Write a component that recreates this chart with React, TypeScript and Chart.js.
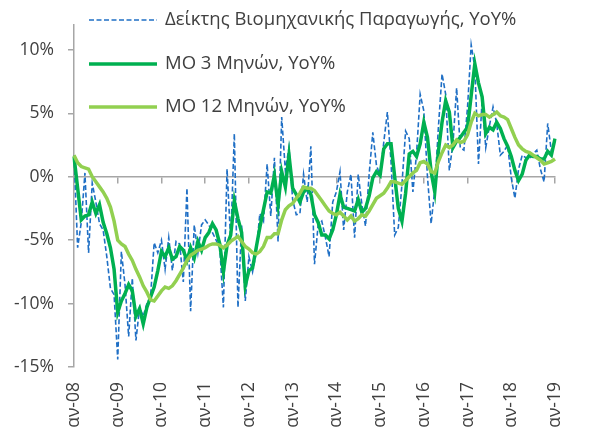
import React, { useEffect, useRef } from "react";
import { Chart, registerables } from "chart.js";

Chart.register(...registerables);

const TICK_YEARS = ["08", "09", "10", "11", "12", "13", "14", "15", "16", "17", "18", "19"];
const MONTH_ABBR = ["αν", "Φεβ", "Μαρ", "Απρ", "Μαϊ", "Ιουν", "Ιουλ", "Αυγ", "Σεπ", "Οκτ", "Νοε", "Δεκ"];
const N_POINTS = 133; // Jan-08 .. Jan-19

const CATEGORIES: string[] = [];
for (let i = 0; i < N_POINTS; i++) {
  CATEGORIES.push(`${MONTH_ABBR[i % 12]}-${TICK_YEARS[Math.floor(i / 12)]}`);
}

const SERIES_NAMES = [
  "Δείκτης Βιομηχανικής Παραγωγής, YoY%",
  "MO 3 Μηνών, YoY%",
  "MO 12 Μηνών, YoY%",
];

const INDEX_YOY = [
  1.7, -5.6, -3.6, 0.3, -6.0, -0.5, -2.0, -3.7, -4.2, -6.3, -8.8, -9.3,
  -14.4, -5.9, -8.5, -12.6, -8.0, -12.9, -10.3, -11.0, -10.0, -9.5, -5.2, -6.0,
  -5.0, -7.3, -4.8, -7.4, -5.1, -5.3, -8.3, -0.9, -10.6, -3.8, -6.0, -3.8,
  -3.4, -3.8, -4.4, -5.0, -5.6, -10.3, 0.6, -5.1, 3.4, -10.3, -3.8, -9.8,
  -6.3, -7.5, -6.0, -2.9, -3.5, 1.0, -3.1, 1.5, -5.1, 4.7, 0.5, 2.3,
  -1.8, -3.0, -2.9, 0.2, -2.0, 2.4, -6.9, -3.8, -3.5, -4.8, -6.3, -2.0,
  -1.2, 0.4, -4.2, -1.2, 0.2, -4.8, 0.2, -2.2, -3.9, 0.2, 3.5, 0.9,
  0.1, 2.7, 5.1, 1.2, -4.6, -4.0, -0.6, 3.6, 3.0, -1.2, 1.8, 6.5,
  5.2, 0.0, -3.7, -1.0, 3.9, 8.1, 6.5, 0.5, 2.6, 7.0, 2.3, 2.1,
  5.5, 10.4, 8.6, 1.0, 6.0, 2.3, 4.0, 5.5, 4.2, 1.7, 2.0, 2.5,
  -0.1, -1.7, 0.6, 1.7, 1.5, 1.4, 1.8, 2.1, 0.6, -0.4, 4.2, 2.0,
  3.0,
];

const MA3_YOY = [
  1.6, -0.9, -3.4, -3.1, -3.0, -2.0, -2.9, -2.2, -3.6, -4.5, -5.6, -7.3,
  -10.7, -9.8, -9.2, -8.5, -9.0, -11.0, -10.4, -11.6, -10.3, -9.5, -8.7, -7.4,
  -5.9, -6.3, -5.6, -6.5, -6.3, -5.5, -5.8, -6.6, -5.6, -6.4, -5.1, -5.8,
  -4.8, -4.4, -3.7, -4.2, -5.3, -7.5, -5.4, -4.6, -1.9, -3.3, -4.4, -8.6,
  -7.4, -7.2, -5.6, -4.0, -2.6, -1.2, -1.3, 0.1, -2.2, 0.4, -0.8, 1.7,
  -0.9, -1.4, -2.0, -1.2, -0.9, -1.4, -3.0, -3.6, -4.6, -4.6, -4.9, -4.2,
  -3.0, -1.4, -2.4, -2.5, -2.6, -2.7, -1.8, -2.8, -2.5, -1.5, -0.1, 0.4,
  0.1, 2.2, 2.6, 2.6, 0.0, -2.5, -3.5, -1.3, 1.8, 2.0, 1.6, 2.6,
  4.3, 3.1, 0.4, -1.2, 2.0, 4.3, 6.0, 5.1, 2.3, 2.8, 3.1, 3.5,
  3.9, 6.4, 8.9, 7.4, 6.3, 3.4, 3.9, 3.7, 4.3, 3.8, 3.0, 2.4,
  1.6, 0.5, -0.3, 0.2, 1.3, 1.7, 1.6, 1.6, 1.4, 1.4, 2.0, 1.7,
  3.0,
];

const MA12_YOY = [
  1.7, 1.1, 0.8, 0.7, 0.6, 0.0, -0.4, -0.8, -1.2, -1.7, -2.4, -3.5,
  -5.0, -5.3, -5.5, -6.1, -6.6, -7.3, -7.9, -8.6, -9.1, -9.7, -9.8, -9.4,
  -9.0, -8.7, -8.8, -8.6, -8.2, -7.7, -7.2, -6.6, -6.2, -6.0, -5.8, -5.7,
  -5.6, -5.4, -5.3, -5.3, -5.4, -5.6, -5.4, -5.1, -4.9, -4.7, -5.1, -5.5,
  -5.7, -6.0, -6.1, -5.9, -5.5, -4.8, -4.8, -4.5, -4.5, -3.4, -2.6, -2.3,
  -2.1, -1.7, -1.3, -0.8, -0.9, -0.9, -1.1, -1.5, -1.9, -2.3, -2.7, -2.9,
  -3.0, -2.8, -3.1, -3.4, -3.1, -3.5, -3.3, -3.0, -3.1, -2.7, -2.2, -1.7,
  -1.5, -1.3, -0.9, -0.4, -0.4, -0.5, -0.6, -0.3, 0.0, 0.3, 0.5, 1.1,
  1.2, 1.0, 0.4, 0.3, 1.2, 1.9, 2.5, 2.3, 2.5, 2.9, 2.7, 2.8,
  3.3, 4.3, 5.0, 4.8, 4.9, 4.9, 4.7, 4.9, 5.1, 4.8, 4.7, 4.5,
  3.8, 3.1, 2.5, 2.2, 2.0, 1.9, 1.7, 1.5, 1.3, 1.0, 1.1, 1.2,
  1.4,
];

const Y_MIN = -15;
const Y_MAX = 12;
const Y_STEP = 5;

const FONT_FAMILY = '"Open Sans", "DejaVu Sans", sans-serif';
const TEXT_COLOR = "#404040";
const AXIS_COLOR = "#a6a6a6";
const BLUE = "#1f6fc5";
const DARK_GREEN = "#00b050";
const LIGHT_GREEN = "#92d050";

const keepYearTicks = (scale: any) => {
  scale.ticks = scale.ticks.filter((t: any) => t.value % 12 === 0);
};

const legendPlugin = {
  id: "insideLegend",
  afterDatasetsDraw(chart: any, _args: any, opts: any) {
    const ctx = chart.ctx;
    ctx.save();
    chart.data.datasets.forEach((ds: any, k: number) => {
      const y = opts.rows[k];
      ctx.beginPath();
      ctx.setLineDash(ds.borderDash || []);
      ctx.strokeStyle = ds.borderColor;
      ctx.lineWidth = ds.borderWidth;
      ctx.moveTo(opts.lineStart, y);
      ctx.lineTo(opts.lineEnd, y);
      ctx.stroke();
      ctx.setLineDash([]);
      ctx.fillStyle = opts.color;
      ctx.font = opts.font;
      ctx.textBaseline = "middle";
      ctx.textAlign = "left";
      ctx.fillText(ds.label, opts.textX, y);
    });
    ctx.restore();
  },
};

export default function App() {
  const canvasRef = useRef<HTMLCanvasElement | null>(null);

  useEffect(() => {
    if (!canvasRef.current) return;
    const tickFont = { family: FONT_FAMILY, size: 17.5 };
    const chart = new Chart(canvasRef.current, {
      type: "line",
      data: {
        labels: CATEGORIES,
        datasets: [
          {
            label: SERIES_NAMES[0],
            data: INDEX_YOY,
            borderColor: BLUE,
            borderWidth: 1.6,
            borderDash: [5, 2.5],
            pointRadius: 0,
            tension: 0,
            fill: false,
            order: 3,
          },
          {
            label: SERIES_NAMES[1],
            data: MA3_YOY,
            borderColor: DARK_GREEN,
            borderWidth: 3.5,
            pointRadius: 0,
            tension: 0,
            fill: false,
            order: 2,
          },
          {
            label: SERIES_NAMES[2],
            data: MA12_YOY,
            borderColor: LIGHT_GREEN,
            borderWidth: 3.5,
            pointRadius: 0,
            tension: 0,
            fill: false,
            order: 1,
          },
        ],
      },
      options: {
        animation: false,
        responsive: false,
        devicePixelRatio: 1,
        layout: { padding: { top: 22, right: 9, bottom: 0, left: 0 } },
        plugins: {
          legend: { display: false },
          tooltip: { enabled: false },
          insideLegend: {
            rows: [20, 64, 107],
            lineStart: 89,
            lineEnd: 157,
            textX: 165,
            color: TEXT_COLOR,
            font: `18.5px ${FONT_FAMILY}`,
          },
        } as any,
        scales: {
          x: {
            type: "category",
            offset: false,
            grid: { display: false, drawTicks: false },
            border: { display: false },
            ticks: {
              autoSkip: false,
              maxRotation: 90,
              minRotation: 90,
              padding: 15,
              color: TEXT_COLOR,
              font: tickFont,
            },
            afterBuildTicks: keepYearTicks,
            afterFit: (s: any) => {
              s.height = 66;
            },
          },
          x2: {
            type: "category",
            labels: CATEGORIES,
            position: { y: 0 },
            offset: false,
            grid: {
              drawOnChartArea: false,
              drawTicks: true,
              tickLength: 6,
              color: AXIS_COLOR,
              lineWidth: 1.5,
            },
            border: { display: true, color: AXIS_COLOR, width: 1.5 },
            ticks: { display: false, autoSkip: false },
            afterBuildTicks: keepYearTicks,
            afterFit: (s: any) => {
              s.height = 0;
            },
          },
          y: {
            min: Y_MIN,
            max: Y_MAX,
            grid: {
              drawOnChartArea: false,
              drawTicks: true,
              tickLength: 6,
              color: AXIS_COLOR,
              lineWidth: 1.5,
            },
            border: { display: true, color: AXIS_COLOR, width: 1.5 },
            ticks: {
              stepSize: Y_STEP,
              includeBounds: false,
              padding: 14,
              color: TEXT_COLOR,
              font: tickFont,
              callback: (v: any) => `${v}%`,
            },
            afterFit: (s: any) => {
              s.width = 74;
            },
          },
        } as any,
      },
      plugins: [legendPlugin],
    });
    return () => chart.destroy();
  }, []);

  return (
    <div style={{ position: "fixed", left: 0, top: 0, width: 591, height: 433, background: "#fff" }}>
      <canvas ref={canvasRef} width={591} height={433} style={{ display: "block" }} />
    </div>
  );
}
